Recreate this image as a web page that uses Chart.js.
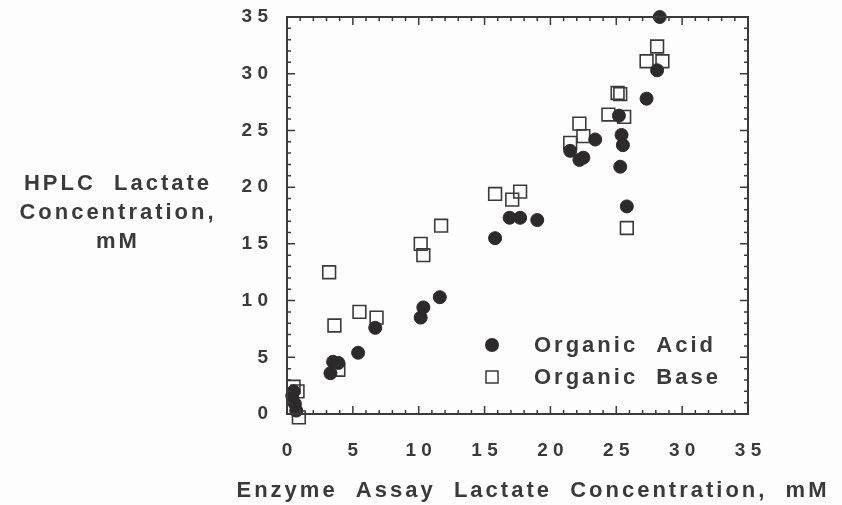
<!DOCTYPE html>
<html>
<head>
<meta charset="utf-8">
<script src="https://cdn.jsdelivr.net/npm/chart.js@4.4.0/dist/chart.umd.min.js"></script>
<style>
  html, body { margin: 0; padding: 0; background: #fdfdfd; }
  #wrap { width: 842px; height: 505px; position: relative; }
</style>
</head>
<body>
<div id="wrap"><canvas id="canvas"></canvas></div>
<script>
// values (mM)
const acidX = [28.3, 28.1, 27.3, 25.2, 25.4, 25.5, 25.3, 25.8, 23.4, 21.5, 22.2, 22.5,
  16.9, 17.7, 19.0, 15.8, 11.6, 10.35, 10.15, 6.7, 5.4, 3.5, 3.9, 3.3, 0.4, 0.6, 0.7, 0.5];
const acidY = [35.0, 30.3, 27.8, 26.3, 24.6, 23.7, 21.8, 18.3, 24.2, 23.2, 22.4, 22.6,
  17.3, 17.3, 17.1, 15.5, 10.3, 9.4, 8.5, 7.6, 5.4, 4.6, 4.5, 3.6, 1.6, 0.9, 0.3, 2.0];

const baseX = [28.1, 27.3, 28.5, 25.1, 25.3, 24.4, 25.6, 22.2, 22.5, 21.5, 15.8, 17.7, 17.1,
  25.8, 11.7, 10.15, 10.35, 3.2, 5.5, 6.8, 3.6, 3.9, 0.5, 0.8, 0.9];
const baseY = [32.4, 31.1, 31.1, 28.3, 28.2, 26.4, 26.2, 25.6, 24.5, 23.9, 19.4, 19.6, 18.9,
  16.4, 16.6, 15.0, 14.0, 12.5, 9.0, 8.5, 7.8, 3.9, 2.4, 2.0, -0.3];

const tickValues = [0, 5, 10, 15, 20, 25, 30, 35];
const seriesNames = ['Organic  Acid', 'Organic  Base'];
const xTitle = 'Enzyme  Assay  Lactate  Concentration,  mM';
const yTitle = ['HPLC  Lactate', 'Concentration,', 'mM'];

const ink = '#3a3a3a';

function toPoints(xs, ys) {
  return xs.map((x, i) => ({ x: x, y: ys[i] }));
}

// digits on the original axes are spaced out: "3 5"
function spaced(v) {
  return String(v).split('').join(' ');
}

// inward tick marks on all four sides + frame
const frameTicks = {
  id: 'frameTicks',
  afterDatasetsDraw(chart) {
    const ctx = chart.ctx;
    const a = chart.chartArea;
    const xs = chart.scales.x, ys = chart.scales.y;
    ctx.save();
    ctx.strokeStyle = ink;
    ctx.lineWidth = 2;
    ctx.strokeRect(a.left, a.top, a.right - a.left, a.bottom - a.top);
    ctx.lineWidth = 1.5;
    ctx.beginPath();
    for (let v = 0; v <= 35; v++) {
      let len = v % 5 == 0 ? 8 : 4;
      let px = xs.getPixelForValue(v);
      ctx.moveTo(px, a.bottom); ctx.lineTo(px, a.bottom - len);
      ctx.moveTo(px, a.top); ctx.lineTo(px, a.top + len);
      let py = ys.getPixelForValue(v);
      ctx.moveTo(a.left, py); ctx.lineTo(a.left + len, py);
      ctx.moveTo(a.right, py); ctx.lineTo(a.right - len, py);
    }
    ctx.stroke();
    ctx.restore();
  },
  afterDraw(chart) {
    const ctx = chart.ctx;
    const a = chart.chartArea;
    ctx.save();
    ctx.fillStyle = ink;
    ctx.font = 'bold 22px "Liberation Sans", Arial, sans-serif';
    ctx.letterSpacing = '3px';
    ctx.textAlign = 'center';
    ctx.textBaseline = 'middle';
    // y title sits horizontally left of the axis
    yTitle.forEach((t, i) => ctx.fillText(t, 118, 184 + i * 29));
    ctx.fillText(xTitle, 533, 491);

    // legend inside the plot, lower right
    const ds = chart.data.datasets;
    const mx = a.right - 256;
    const tx = a.right - 214;
    const rows = [a.bottom - 69, a.bottom - 37];
    ctx.textAlign = 'left';
    ds.forEach((d, i) => {
      const y = rows[i];
      ctx.beginPath();
      if (d.pointStyle == 'circle') {
        ctx.fillStyle = d.backgroundColor;
        ctx.arc(mx, y, 7, 0, Math.PI * 2);
        ctx.fill();
      } else {
        ctx.strokeStyle = d.borderColor;
        ctx.lineWidth = 1.5;
        ctx.strokeRect(mx - 6, y - 6, 12, 12);
      }
      ctx.fillStyle = ink;
      ctx.fillText(d.label, tx, y + 1);
    });
    ctx.restore();
  }
};

Chart.defaults.font.family = '"Liberation Sans", Arial, sans-serif';
Chart.defaults.color = ink;

const ctx = document.getElementById('canvas').getContext('2d');
new Chart(ctx, {
  type: 'scatter',
  data: {
    datasets: [{
      label: seriesNames[0],
      data: toPoints(acidX, acidY),
      pointStyle: 'circle',
      pointRadius: 6.5,
      pointHoverRadius: 6.5,
      backgroundColor: '#2c2a2b',
      borderColor: '#2c2a2b',
      borderWidth: 1,
      clip: false
    }, {
      label: seriesNames[1],
      data: toPoints(baseX, baseY),
      pointStyle: 'rect',
      pointRadius: 9,
      pointHoverRadius: 9,
      backgroundColor: 'rgba(0,0,0,0)',
      borderColor: '#3a3a3a',
      borderWidth: 1.6,
      clip: false
    }]
  },
  options: {
    responsive: true,
    maintainAspectRatio: false,
    animation: false,
    layout: { padding: { top: 17, right: 94, left: 0, bottom: 0 } },
    plugins: {
      legend: { display: false },
      tooltip: { enabled: false }
    },
    scales: {
      x: {
        type: 'linear',
        min: 0,
        max: 35,
        afterFit: s => { s.height = 91; s.paddingLeft = 0; s.paddingRight = 0; },
        afterBuildTicks: s => { s.ticks = tickValues.map(v => ({ value: v })); },
        grid: { display: false, drawTicks: false },
        border: { display: false },
        ticks: {
          padding: 25,
          font: { size: 19, weight: 'bold' },
          callback: v => spaced(v)
        }
      },
      y: {
        type: 'linear',
        min: 0,
        max: 35,
        afterFit: s => { s.width = 287; s.paddingTop = 0; s.paddingBottom = 0; },
        afterBuildTicks: s => { s.ticks = tickValues.map(v => ({ value: v })); },
        grid: { display: false, drawTicks: false },
        border: { display: false },
        ticks: {
          padding: 19,
          font: { size: 19, weight: 'bold' },
          callback: v => spaced(v)
        }
      }
    }
  },
  plugins: [frameTicks]
});
</script>
</body>
</html>
